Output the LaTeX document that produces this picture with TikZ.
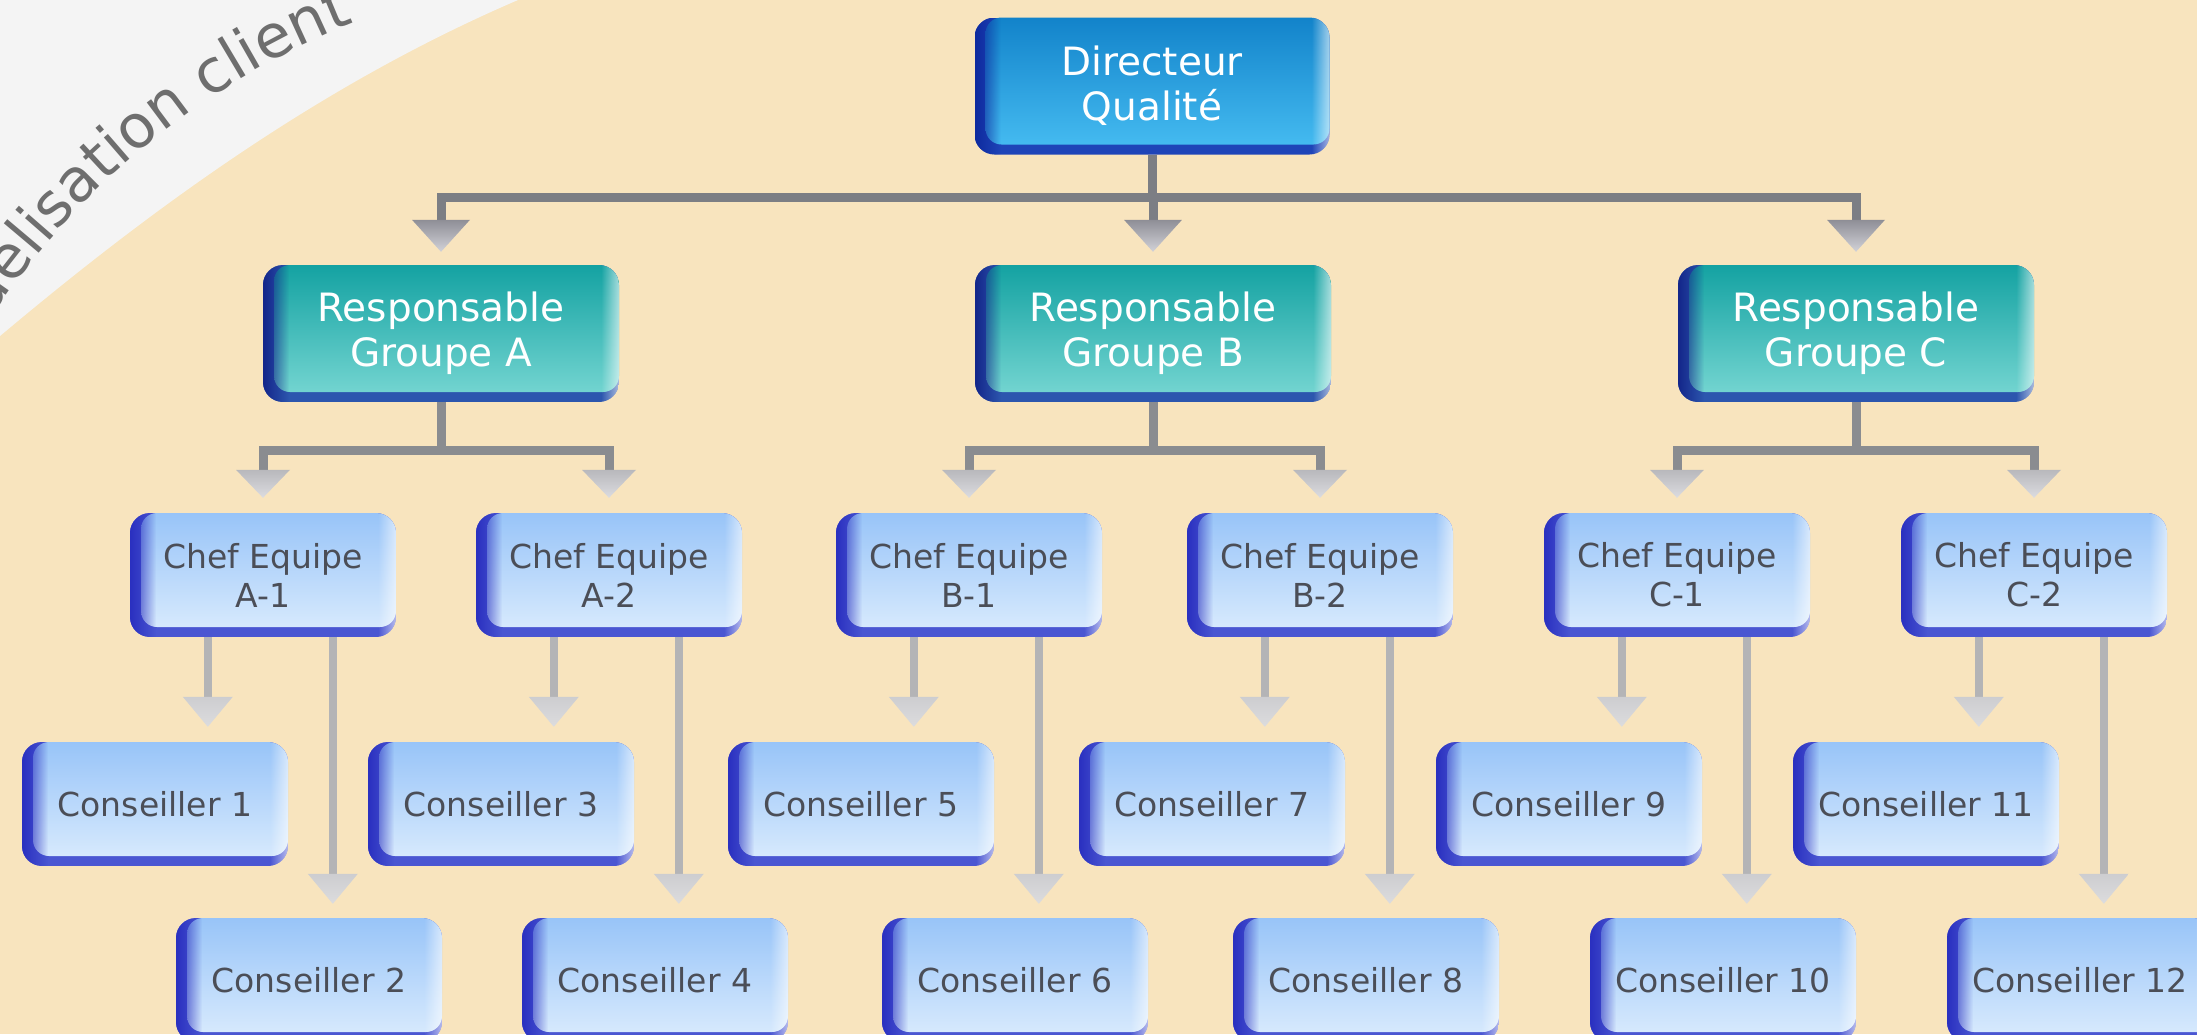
\documentclass[tikz,border=0pt]{standalone}
\usepackage{fontspec}
\setmainfont{DejaVu Sans}
\usetikzlibrary{calc,fadings,decorations.text}

\definecolor{bg}{HTML}{F8E4BE}
\definecolor{band}{HTML}{F4F4F4}
\definecolor{bandtxt}{HTML}{6E6E6E}
% Directeur palette
\definecolor{dirT}{HTML}{1283CA}
\definecolor{dirB}{HTML}{44BAF0}
\definecolor{dirL}{HTML}{0E2A9E}
\definecolor{dirE}{HTML}{1E44B8}
% Responsable palette
\definecolor{respT}{HTML}{14A2A2}
\definecolor{respB}{HTML}{72D4D0}
\definecolor{respL}{HTML}{14268A}
\definecolor{respE}{HTML}{2C56AE}
% Chef / Conseiller palette
\definecolor{chefT}{HTML}{98C4F8}
\definecolor{chefB}{HTML}{D6E9FD}
\definecolor{chefL}{HTML}{2A30C0}
\definecolor{chefE}{HTML}{4A56D2}
\definecolor{cheftxt}{HTML}{4B4E57}
% connectors
\definecolor{lineA}{HTML}{7C7E84}
\definecolor{lineB}{HTML}{8A8C90}
\definecolor{lineC}{HTML}{B4B4B6}
\definecolor{headAT}{HTML}{8E8E96}
\definecolor{headAB}{HTML}{D2D2D8}
\definecolor{headBT}{HTML}{B8B8BC}
\definecolor{headBB}{HTML}{DCDCE0}
\definecolor{headCT}{HTML}{CDCDD0}
\definecolor{headCB}{HTML}{DCDCDE}

\tikzfading[name=fadeleft, left color=transparent!0, right color=transparent!100]
\tikzfading[name=faderight, left color=transparent!100, right color=transparent!0]

\tikzset{
  bigtxt/.style={text=white, font=\fontsize{39}{45}\selectfont, align=center},
  smalltxt/.style={text=cheftxt, font=\fontsize{33}{39}\selectfont, align=center},
  conA/.style={line width=9pt, draw=lineA},
  conB/.style={line width=9pt, draw=lineB},
  conC/.style={line width=8pt, draw=lineC},
}

% #1 name, #2 cx, #3 cy, #4 w, #5 h, #6 palette, #7 text style, #8 text
\newcommand\orgbox[8]{%
  \begin{scope}[shift={(#2,#3)}]
    \pgfmathsetmacro\hw{#4/2}\pgfmathsetmacro\hh{#5/2}
    \begin{scope}
      \clip[rounded corners=20pt] (-\hw,-\hh) rectangle (\hw,\hh);
      \fill[#6E] (-\hw,-\hh) rectangle (\hw,\hh);
      \shade[rounded corners=16pt, top color=#6T, bottom color=#6B]
        ({-\hw+11},-\hh) rectangle (\hw,{\hh-10});
      \fill[#6L, path fading=fadeleft] (-\hw,-\hh) rectangle ({-\hw+26},\hh);
      \fill[white, opacity=.6, path fading=faderight] ({\hw-18},-\hh) rectangle (\hw,\hh);
    \end{scope}
    \node[#7, minimum width=#4pt, minimum height=#5pt, inner sep=0pt] (#1) at (0,0) {#8};
  \end{scope}}

% arrow head: #1 tip coordinate, #2 half width, #3 length, #4 top colour, #5 bottom colour
\newcommand\arrowhd[5]{%
  \shade[top color=#4, bottom color=#5]
    ($(#1)+(-#2,-#3)$) -- ($(#1)+(#2,-#3)$) -- (#1) -- cycle;}

% level 1/2 link: #1 from node, #2 junction, #3 to node, #4 style, #5 gap, #6 shorten
\newcommand\lvllink[6]{%
  \draw[#4, shorten >=#6pt] (#1.south) -- (#1.south |- #2) -| (#3.north);
  \coordinate (#3tip) at ($(#3.north)+(0,-#5)$);}

% chef to conseillers: #1 chef, #2 odd conseiller, #3 even conseiller
\newcommand\chefstems[3]{%
  \path ([xshift=78pt]#1.south west) coordinate (#1sa)
        ([xshift=203pt]#1.south west) coordinate (#1sb);
  \draw[conC, shorten >=43pt] (#1sa) -- (#1sa |- #2.north);
  \draw[conC, shorten >=43pt] (#1sb) -- (#1sb |- #3.north);
  \coordinate (#1ta) at ($(#1sa |- #2.north)+(0,-15)$);
  \coordinate (#1tb) at ($(#1sb |- #3.north)+(0,-14)$);
  \arrowhd{#1ta}{25}{30}{headCT}{headCB}
  \arrowhd{#1tb}{25}{30}{headCT}{headCB}}

\begin{document}
\begin{tikzpicture}[x=1pt,y=-1pt, line join=miter]
\useasboundingbox (0,0) rectangle (2197,1034);
\fill[bg] (0,0) rectangle (2197,1034);
\fill[band] (0,0) -- (0,336) .. controls (150,210) and (320,85) .. (518,0) -- cycle;
\path[decorate, decoration={text along path, text color=bandtxt,
   text={|\fontsize{60}{64}\selectfont|délisation client}}]
   plot[domain=146.5:100, samples=47, variable=\p] ({644+783*cos(\p)}, {750-783*sin(\p)});

% ---- boxes ----
\orgbox{dir}{1152}{86}{355}{137}{dir}{bigtxt}{Directeur\\Qualité}
\orgbox{respA}{441}{333.5}{356}{137}{resp}{bigtxt}{Responsable\\Groupe A}
\orgbox{respB}{1153}{333.5}{356}{137}{resp}{bigtxt}{Responsable\\Groupe B}
\orgbox{respC}{1856}{333.5}{356}{137}{resp}{bigtxt}{Responsable\\Groupe C}

\orgbox{chefA1}{263}{575}{266}{124}{chef}{smalltxt}{Chef Equipe\\A-1}
\orgbox{chefA2}{609}{575}{266}{124}{chef}{smalltxt}{Chef Equipe\\A-2}
\orgbox{chefB1}{969}{575}{266}{124}{chef}{smalltxt}{Chef Equipe\\B-1}
\orgbox{chefB2}{1320}{575}{266}{124}{chef}{smalltxt}{Chef Equipe\\B-2}
\orgbox{chefC1}{1677}{575}{266}{124}{chef}{smalltxt}{Chef Equipe\\C-1}
\orgbox{chefC2}{2034}{575}{266}{124}{chef}{smalltxt}{Chef Equipe\\C-2}

\orgbox{c1}{155}{804}{266}{124}{chef}{smalltxt}{Conseiller 1}
\orgbox{c3}{501}{804}{266}{124}{chef}{smalltxt}{Conseiller 3}
\orgbox{c5}{861}{804}{266}{124}{chef}{smalltxt}{Conseiller 5}
\orgbox{c7}{1212}{804}{266}{124}{chef}{smalltxt}{Conseiller 7}
\orgbox{c9}{1569}{804}{266}{124}{chef}{smalltxt}{Conseiller 9}
\orgbox{c11}{1926}{804}{266}{124}{chef}{smalltxt}{Conseiller 11}

\orgbox{c2}{309}{980}{266}{124}{chef}{smalltxt}{Conseiller 2}
\orgbox{c4}{655}{980}{266}{124}{chef}{smalltxt}{Conseiller 4}
\orgbox{c6}{1015}{980}{266}{124}{chef}{smalltxt}{Conseiller 6}
\orgbox{c8}{1366}{980}{266}{124}{chef}{smalltxt}{Conseiller 8}
\orgbox{c10}{1723}{980}{266}{124}{chef}{smalltxt}{Conseiller 10}
\orgbox{c12}{2080}{980}{266}{124}{chef}{smalltxt}{Conseiller 12}

% ---- level 1 ----
\coordinate (j0) at (1152,197);
\lvllink{dir}{j0}{respA}{conA}{13}{43}
\lvllink{dir}{j0}{respB}{conA}{13}{43}
\lvllink{dir}{j0}{respC}{conA}{13}{43}
\arrowhd{respAtip}{29}{32}{headAT}{headAB}
\arrowhd{respBtip}{29}{32}{headAT}{headAB}
\arrowhd{respCtip}{29}{32}{headAT}{headAB}

% ---- level 2 ----
\path (respA.south) ++(0,48) coordinate (jA);
\path (respB.south) ++(0,48) coordinate (jB);
\path (respC.south) ++(0,48) coordinate (jC);
\lvllink{respA}{jA}{chefA1}{conB}{15}{41}
\lvllink{respA}{jA}{chefA2}{conB}{15}{41}
\lvllink{respB}{jB}{chefB1}{conB}{15}{41}
\lvllink{respB}{jB}{chefB2}{conB}{15}{41}
\lvllink{respC}{jC}{chefC1}{conB}{15}{41}
\lvllink{respC}{jC}{chefC2}{conB}{15}{41}
\foreach \t in {chefA1tip,chefA2tip,chefB1tip,chefB2tip,chefC1tip,chefC2tip}
  {\arrowhd{\t}{27}{28}{headBT}{headBB}}

% ---- level 3 ----
\chefstems{chefA1}{c1}{c2}
\chefstems{chefA2}{c3}{c4}
\chefstems{chefB1}{c5}{c6}
\chefstems{chefB2}{c7}{c8}
\chefstems{chefC1}{c9}{c10}
\chefstems{chefC2}{c11}{c12}
\end{tikzpicture}
\end{document}
